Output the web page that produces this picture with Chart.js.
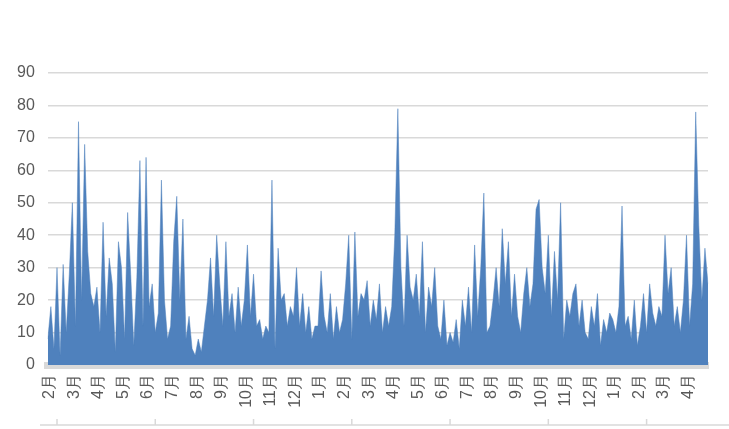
<!DOCTYPE html>
<html>
<head>
<meta charset="UTF-8">
<script src="https://cdn.jsdelivr.net/npm/chart.js@4.4.0/dist/chart.umd.min.js"></script>
<style>
  html, body { margin: 0; padding: 0; background: #fff; }
  #wrap { width: 729px; height: 429px; }
</style>
</head>
<body>
<div id="wrap"><canvas id="c"></canvas></div>
<script>
// month sequence, Feb (year 1) .. Apr (year 3); 8 samples per month
const months = ["2月","3月","4月","5月","6月","7月","8月","9月","10月","11月","12月","1月",
  "2月","3月","4月","5月","6月","7月","8月","9月","10月","11月","12月","1月","2月","3月","4月"];
const perMonth = 8;
const yTicks = [0, 10, 20, 30, 40, 50, 60, 70, 80, 90];

const values = [
  8,18,5,30,3,31,10,28,
  50,12,75,20,68,35,22,18,
  24,10,44,15,33,25,4,38,
  30,8,47,28,6,27,63,12,
  64,18,25,10,16,57,20,8,
  12,38,52,20,45,8,15,5,
  3,8,4,12,20,33,15,40,
  25,12,38,15,22,10,24,12,
  20,37,15,28,12,14,8,12,
  10,57,5,36,20,22,12,18,
  15,30,12,22,10,18,8,12,
  12,29,15,10,22,8,18,10,
  14,25,40,8,41,15,22,20,
  26,12,20,14,25,10,18,12,
  18,40,79,30,12,40,24,20,
  28,15,38,10,24,18,30,12,
  8,20,6,10,7,14,5,20,
  12,24,10,37,15,30,53,10,
  12,20,30,18,42,25,38,15,
  28,15,10,22,30,18,25,48,
  51,30,22,40,15,35,20,50,
  8,20,15,22,25,12,20,10,
  8,18,12,22,6,14,10,16,
  14,10,18,49,12,15,8,20,
  6,12,22,10,25,16,12,18,
  15,40,22,30,12,18,10,20,
  40,12,25,78,43,20,36,25
];

const labels = values.map((v, i) => months[Math.floor(i / perMonth)]);

// rotated month labels (bottom-to-top) and the lower tick strip
const monthLabels = {
  id: "monthLabels",
  afterDraw(chart) {
    const ctx = chart.ctx;
    const x = chart.scales.x;
    ctx.save();
    ctx.fillStyle = "#595959";
    ctx.font = "16px 'Liberation Sans', Arial, sans-serif";
    ctx.textAlign = "right";
    ctx.textBaseline = "middle";
    for (let m = 0; m < months.length; m++) {
      const px = x.getPixelForValue(m * perMonth) + 2;
      ctx.save();
      ctx.translate(px, x.top + 9);
      ctx.rotate(-Math.PI / 2);
      ctx.fillText(months[m], 0, 0);
      ctx.restore();
    }
    ctx.strokeStyle = "#d9d9d9";
    ctx.lineWidth = 1.5;
    ctx.beginPath();
    ctx.moveTo(40, 425);
    ctx.lineTo(729, 425);
    for (let m = 0; m * 4 < months.length; m++) {
      const px = x.getPixelForValue(m * 4 * perMonth + 3);
      ctx.moveTo(px, 425);
      ctx.lineTo(px, 419);
    }
    ctx.stroke();
    ctx.restore();
  }
};

new Chart(document.getElementById("c"), {
  type: "line",
  data: {
    labels: labels,
    datasets: [{
      data: values,
      fill: "origin",
      backgroundColor: "#4f81bd",
      borderColor: "#4f81bd",
      borderWidth: 0.5,
      pointRadius: 0,
      tension: 0
    }]
  },
  options: {
    responsive: true,
    maintainAspectRatio: false,
    animation: false,
    layout: { padding: { top: 73, right: 21, left: 4, bottom: 0 } },
    plugins: { legend: { display: false }, tooltip: { enabled: false } },
    scales: {
      x: {
        offset: false,
        grid: { display: false },
        border: { color: "#d9d9d9", width: 7 },
        ticks: { display: false },
        afterFit(scale) { scale.height = 64; }
      },
      y: {
        min: 0,
        max: 90,
        afterBuildTicks(scale) { scale.ticks = yTicks.map(v => ({ value: v })); },
        grid: { color: "#d9d9d9", lineWidth: 1.5, drawTicks: false },
        border: { display: false },
        ticks: {
          color: "#595959",
          padding: 13,
          font: { family: "'Liberation Sans', Arial, sans-serif", size: 16 }
        }
      }
    }
  },
  plugins: [monthLabels]
});
</script>
</body>
</html>
